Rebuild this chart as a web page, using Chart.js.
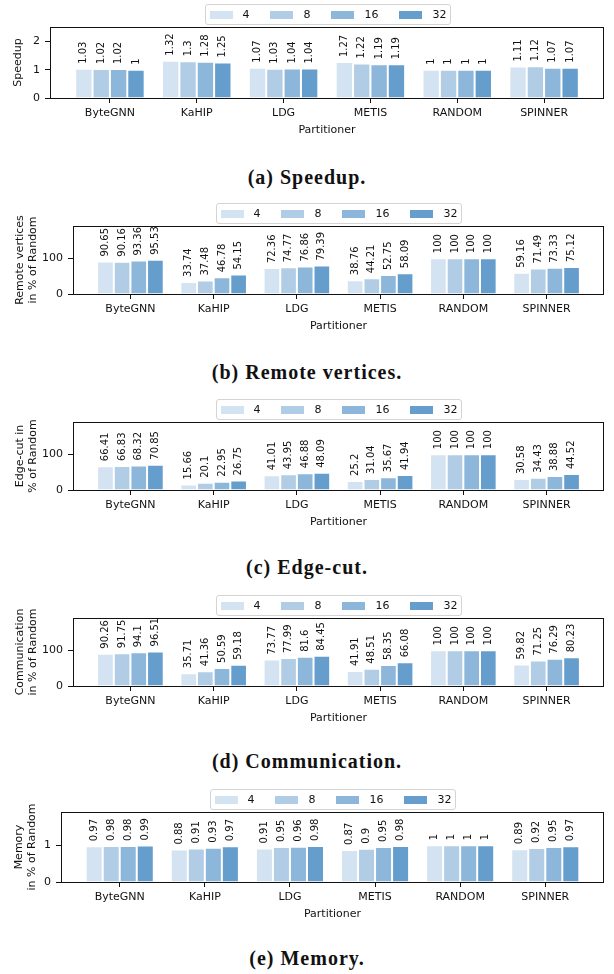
<!DOCTYPE html>
<html>
<head>
<meta charset="utf-8">
<script src="https://cdn.jsdelivr.net/npm/chart.js@4.4.1/dist/chart.umd.min.js"></script>
<style>
  html, body { margin: 0; padding: 0; background: #fff; }
  body { width: 614px; height: 974px; position: relative; overflow: hidden; }
  .panel { position: absolute; left: 0; width: 614px; }
  .caption {
    position: absolute; left: 0; width: 614px; text-align: center;
    font: bold 20px "Liberation Serif", serif; letter-spacing: 1px;
    line-height: 20px; color: #111;
  }
</style>
</head>
<body>
<script>
// Partitioners on the x axis and the partition counts shown as series
const partitioners = ['ByteGNN', 'KaHIP', 'LDG', 'METIS', 'RANDOM', 'SPINNER'];
const partitionCounts = ['4', '8', '16', '32'];

// One row per partition count (4, 8, 16, 32), one column per partitioner
const speedup = [
  [1.03, 1.32, 1.07, 1.27, 1, 1.11],
  [1.02, 1.3, 1.03, 1.22, 1, 1.12],
  [1.02, 1.28, 1.04, 1.19, 1, 1.07],
  [1, 1.25, 1.04, 1.19, 1, 1.07]
];
const remoteVertices = [
  [90.65, 33.74, 72.36, 38.76, 100, 59.16],
  [90.16, 37.48, 74.77, 44.21, 100, 71.49],
  [93.36, 46.78, 76.86, 52.75, 100, 73.33],
  [95.53, 54.15, 79.39, 58.09, 100, 75.12]
];
const edgeCut = [
  [66.41, 15.66, 41.01, 25.2, 100, 30.58],
  [66.83, 20.1, 43.95, 31.04, 100, 34.43],
  [68.32, 22.95, 46.88, 35.67, 100, 38.88],
  [70.85, 26.75, 48.09, 41.94, 100, 44.52]
];
const communication = [
  [90.26, 35.71, 73.77, 41.91, 100, 59.82],
  [91.75, 41.36, 77.99, 48.51, 100, 71.25],
  [94.1, 50.59, 81.6, 58.35, 100, 76.29],
  [96.51, 59.18, 84.45, 66.08, 100, 80.23]
];
const memory = [
  [0.97, 0.88, 0.91, 0.87, 1, 0.89],
  [0.98, 0.91, 0.95, 0.9, 1, 0.92],
  [0.98, 0.93, 0.96, 0.95, 1, 0.95],
  [0.99, 0.97, 0.98, 0.98, 1, 0.97]
];

// Y axis tick labels
const speedupTicks = [0, 1, 2];
const percentTicks = [0, 100];
const memoryTicks = [0, 1];

const seriesColors = ['#d3e3f1', '#b1cde6', '#8cb6da', '#659dcc'];

const FONT = '"DejaVu Sans", sans-serif';
const INK = '#111';

Chart.defaults.font.family = FONT;
Chart.defaults.color = INK;

// Panel layout: plot box edges in page pixels
const panels = [
  { values: speedup, ticks: speedupTicks, yTitle: 'Speedup', caption: '(a) Speedup.',
    top: 27, bottom: 98, left: 50, titlePad: 11.7, captionY: 179 },
  { values: remoteVertices, ticks: percentTicks, yTitle: ['Remote vertices', 'in % of Random'],
    caption: '(b) Remote vertices.', top: 226, bottom: 294, left: 73, titlePad: 13.7, captionY: 374 },
  { values: edgeCut, ticks: percentTicks, yTitle: ['Edge-cut in', '% of Random'],
    caption: '(c) Edge-cut.', top: 422, bottom: 490, left: 73, titlePad: 13.7, captionY: 569 },
  { values: communication, ticks: percentTicks, yTitle: ['Communication', 'in % of Random'],
    caption: '(d) Communication.', top: 618, bottom: 686, left: 73, titlePad: 13.7, captionY: 763 },
  { values: memory, ticks: memoryTicks, yTitle: ['Memory', 'in % of Random'],
    caption: '(e) Memory.', top: 812, bottom: 882, left: 61, titlePad: 12.7, captionY: 960 }
];

const LEGEND_SPACE = 27;
const XAXIS_SPACE = 42;

// Black frame around the plot area
const framePlugin = {
  id: 'frame',
  afterDraw(chart) {
    const { ctx, chartArea: a } = chart;
    ctx.save();
    ctx.strokeStyle = INK;
    ctx.lineWidth = 1;
    const l = Math.round(a.left), t = Math.round(a.top);
    const r = Math.round(a.right), b = Math.round(a.bottom);
    ctx.strokeRect(l + 0.5, t + 0.5, r - l - 1, b - t);
    ctx.restore();
  }
};

// Rotated value labels above each bar
const valueLabelPlugin = {
  id: 'valueLabels',
  afterDatasetsDraw(chart) {
    const { ctx } = chart;
    ctx.save();
    ctx.font = '10px ' + FONT;
    ctx.fillStyle = INK;
    ctx.textAlign = 'left';
    ctx.textBaseline = 'middle';
    chart.data.datasets.forEach((ds, di) => {
      const meta = chart.getDatasetMeta(di);
      meta.data.forEach((bar, i) => {
        const v = ds.data[i].y;
        ctx.save();
        ctx.translate(bar.x, bar.y - 5);
        ctx.rotate(-Math.PI / 2);
        ctx.fillText(String(v), 0, 0);
        ctx.restore();
      });
    });
    ctx.restore();
  }
};

// Framed horizontal legend centred above the plot
const boxLegendPlugin = {
  id: 'boxLegend',
  afterDraw(chart) {
    const { ctx, chartArea: a } = chart;
    ctx.save();
    ctx.font = '11px ' + FONT;
    const items = chart.data.datasets.map(d => ({
      label: d.label, color: d.backgroundColor, w: ctx.measureText(d.label).width
    }));
    const pad = 4, patchW = 23, patchH = 8, gap = 10, col = 21, h = 20;
    const total = pad * 2 + items.reduce((s, it) => s + patchW + gap + it.w, 0) + col * (items.length - 1);
    const x0 = Math.round((a.left + a.right) / 2 - total / 2);
    const y0 = Math.round(a.top) - 23;
    ctx.beginPath();
    ctx.roundRect(x0 + 0.5, y0 + 0.5, Math.round(total), h, 2.5);
    ctx.fillStyle = 'rgba(255,255,255,0.85)';
    ctx.fill();
    ctx.strokeStyle = '#d4d4d4';
    ctx.lineWidth = 1;
    ctx.stroke();
    const cy = y0 + 0.5 + h / 2;
    let x = x0 + pad + 0.5;
    ctx.textAlign = 'left';
    ctx.textBaseline = 'middle';
    items.forEach(it => {
      ctx.fillStyle = it.color;
      ctx.fillRect(Math.round(x), Math.round(cy - patchH / 2), patchW, patchH);
      ctx.fillStyle = INK;
      ctx.fillText(it.label, x + patchW + gap, cy + 0.5);
      x += patchW + gap + it.w + col;
    });
    ctx.restore();
  }
};

panels.forEach(p => {
  const canvasTop = p.top - LEGEND_SPACE;
  const canvasH = (p.bottom - p.top) + LEGEND_SPACE + XAXIS_SPACE;

  const wrap = document.createElement('div');
  wrap.className = 'panel';
  wrap.style.top = canvasTop + 'px';
  wrap.style.height = canvasH + 'px';
  const canvas = document.createElement('canvas');
  canvas.width = 614;
  canvas.height = canvasH;
  canvas.style.width = '614px';
  canvas.style.height = canvasH + 'px';
  wrap.appendChild(canvas);
  document.body.appendChild(wrap);

  const cap = document.createElement('div');
  cap.className = 'caption';
  cap.style.top = (p.captionY - 12) + 'px';
  cap.textContent = p.caption;
  document.body.appendChild(cap);

  const maxVal = Math.max(...p.values.flat());

  new Chart(canvas, {
    type: 'bar',
    data: {
      datasets: partitionCounts.map((label, si) => ({
        label,
        data: p.values[si].map((v, i) => ({ x: i, y: v })),
        backgroundColor: seriesColors[si],
        borderColor: '#ffffff',
        borderWidth: 1,
        borderSkipped: 'start',
        categoryPercentage: 0.8,
        barPercentage: 1.0
      }))
    },
    options: {
      responsive: false,
      animation: false,
      devicePixelRatio: 1,
      layout: { padding: { top: LEGEND_SPACE, left: 0, right: 10, bottom: 0 } },
      plugins: {
        legend: { display: false },
        tooltip: { enabled: false }
      },
      scales: {
        x: {
          type: 'linear',
          offset: false,
          min: -0.69,
          max: 5.69,
          afterBuildTicks(scale) {
            scale.ticks = partitioners.map((_, i) => ({ value: i }));
          },
          afterFit(scale) { scale.height = XAXIS_SPACE; },
          ticks: {
            callback: v => partitioners[v],
            font: { size: 11 },
            color: INK,
            padding: 4,
            maxRotation: 0,
            autoSkip: false
          },
          grid: { display: true, drawOnChartArea: false, drawTicks: true, tickLength: 5, color: INK, offset: false },
          border: { display: false },
          title: {
            display: true, text: 'Partitioner', color: INK,
            font: { size: 11, lineHeight: 1.15 },
            padding: { top: 0, bottom: 3.7 }
          }
        },
        y: {
          min: 0,
          max: maxVal * 1.9,
          afterBuildTicks(scale) {
            scale.ticks = p.ticks.map(v => ({ value: v }));
          },
          afterFit(scale) { scale.width = p.left; },
          ticks: { font: { size: 11 }, color: INK, padding: 5 },
          grid: { display: true, drawOnChartArea: false, drawTicks: true, tickLength: 5, color: INK },
          border: { display: false },
          title: {
            display: true, text: p.yTitle, color: INK,
            font: { size: 11, lineHeight: 1.15 },
            padding: { top: p.titlePad, bottom: 0 }
          }
        }
      }
    },
    plugins: [valueLabelPlugin, framePlugin, boxLegendPlugin]
  });
});
</script>
</body>
</html>
